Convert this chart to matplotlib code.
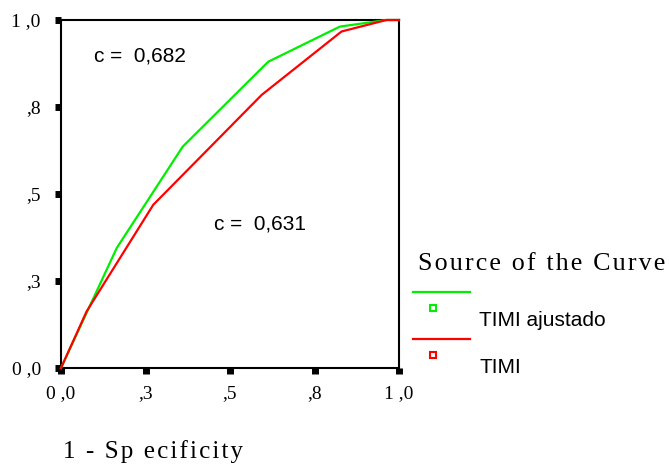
import matplotlib
matplotlib.use('Agg')
import matplotlib.pyplot as plt
from matplotlib.lines import Line2D

# ROC curve points (1 - specificity, sensitivity)
fpr_ajustado = [0.0, 0.165, 0.360, 0.613, 0.825, 0.963, 1.0]
tpr_ajustado = [0.0, 0.345, 0.636, 0.880, 0.981, 1.0, 1.0]
fpr_timi = [0.0, 0.076, 0.273, 0.594, 0.830, 0.963, 1.0]
tpr_timi = [0.0, 0.163, 0.469, 0.785, 0.967, 1.0, 1.0]

ticks = [0.0, 0.25, 0.5, 0.75, 1.0]
tick_labels = ['0 ,0', ',3', ',5', ',8', '1 ,0']
series_names = ['TIMI ajustado', 'TIMI']
auc_labels = ['c =  0,682', 'c =  0,631']

green = '#00ee00'
red = '#ff0000'
hs = '\u200a'  # hair space for the spaced-out serif text


def spaced(s):
    return hs.join(s)


serif = ['Liberation Serif', 'DejaVu Serif']
sans = ['Liberation Sans', 'DejaVu Sans']

fig = plt.figure(figsize=(6.69, 4.65), dpi=100)
ax = fig.add_axes([61 / 669, 1 - 368 / 465, 338 / 669, 348 / 465])

ax.plot(fpr_ajustado, tpr_ajustado, color=green, lw=1.6, clip_on=False, zorder=3)
ax.plot(fpr_timi, tpr_timi, color=red, lw=1.6, clip_on=False, zorder=3)

ax.set_xlim(0, 1)
ax.set_ylim(0, 1)
ax.set_xticks(ticks)
ax.set_yticks(ticks)
ax.set_xticklabels(tick_labels, family=serif, fontsize=14)
ax.set_yticklabels(tick_labels, family=serif, fontsize=14)
ax.tick_params(direction='out', length=4.5, width=5, color='black')
ax.tick_params(axis='y', pad=10)
ax.tick_params(axis='x', pad=8)
for s in ax.spines.values():
    s.set_linewidth(1.5)

ax.text(0.099, 0.897, auc_labels[0], family=sans, fontsize=15, va='center', ha='left')
ax.text(0.454, 0.414, auc_labels[1], family=sans, fontsize=15, va='center', ha='left')

fig.text(63 / 669, 1 - 452 / 465, spaced('1 - Sp ecificity'), family=serif,
         fontsize=18, ha='left', va='center')

# legend drawn by hand to match the original layout
fig.text(418 / 669, 1 - 264 / 465, spaced('Source of the Curve'), family=serif,
         fontsize=18.7, ha='left', va='center')
for i, (name, col) in enumerate(zip(series_names, [green, red])):
    y0 = 292 + i * 47
    fig.add_artist(Line2D([413 / 669, 470 / 669], [1 - y0 / 465, 1 - y0 / 465],
                          color=col, lw=1.6, transform=fig.transFigure))
    fig.add_artist(Line2D([433 / 669], [1 - (y0 + 16) / 465], marker='s', markersize=4,
                          markerfacecolor='white', markeredgecolor=col, markeredgewidth=1.5,
                          transform=fig.transFigure))
    fig.text(479 / 669, 1 - (y0 + 28) / 465, name, family=sans, fontsize=15,
             ha='left', va='center')

fig.savefig('out.png', dpi=100)
